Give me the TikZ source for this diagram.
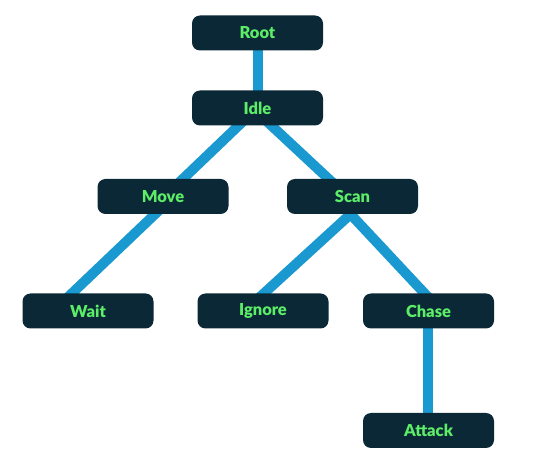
\documentclass[tikz,border=0pt]{standalone}
\usepackage{fontspec}
\setmainfont{Lato}
\newfontfamily\labelfont{Lato Black}
\usetikzlibrary{calc,backgrounds}
\definecolor{boxfill}{HTML}{0A2836}
\definecolor{txtgreen}{HTML}{5DEE68}
\definecolor{edgeblue}{HTML}{1A98D0}
\begin{document}
\begin{tikzpicture}[x=1pt,y=-1pt,
  treenode/.style={rectangle, rounded corners=8pt, fill=boxfill, minimum width=131pt, minimum height=35pt, inner sep=0pt, text=txtgreen, font=\labelfont\fontsize{16.5}{19}\selectfont},
  link/.style={draw=edgeblue, line width=10pt},
  linkx/.style={link, shorten <=-12pt, shorten >=-12pt}]
\useasboundingbox (0,0) rectangle (539,470);
\node[treenode] (root) at (257.5,33) {Root};
\node[treenode] (idle) at (257.5,108) {Idle};
\node[treenode] (move) at (163,196.5) {Move};
\node[treenode] (scan) at (352.5,196.5) {Scan};
\node[treenode] (wait) at (88,311) {Wait};
\node[treenode] (ignore) at (263,311) {Ignore};
\node[treenode] (chase) at (428.5,311) {Chase};
\node[treenode] (attack) at (428.5,430.5) {Attack};
\begin{scope}[on background layer]
\draw[link] (root.center) -- (idle.center);
\draw[linkx] ($(idle.south)+(-19,0)$) -- ($(move.north)+(20,0)$);
\draw[linkx] ($(idle.south)+(14,0)$) -- ($(scan.north)+(-24,0)$);
\draw[linkx] ($(move.south)+(-8,0)$) -- ($(wait.north)+(-16,0)$);
\draw[linkx] ($(scan.south)+(-2,0)$) -- ($(ignore.north)+(1,0)$);
\draw[linkx] ($(scan.south)+(-2,0)$) -- ($(chase.north)+(-4,0)$);
\draw[link] ($(chase.center)+(-1,0)$) -- ($(attack.center)+(-1,0)$);
\end{scope}
\end{tikzpicture}
\end{document}
